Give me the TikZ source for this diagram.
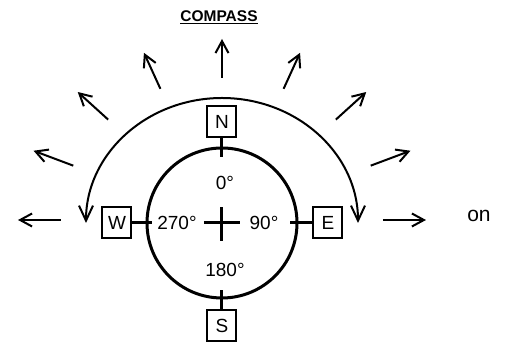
\documentclass[tikz,border=0pt]{standalone}
\usepackage{fontspec}
\setmainfont{Liberation Sans}
\usetikzlibrary{arrows.meta,calc}
\tikzset{
  dirbox/.style={draw,rectangle,line width=2pt,minimum width=29pt,minimum height=31pt,inner sep=0pt,font=\fontsize{19}{19}\selectfont},
  deglbl/.style={inner sep=0pt,font=\fontsize{19}{19}\selectfont},
  tickln/.style={line width=3pt},
  arr/.style={-{Straight Barb[length=12pt,width=13pt]},line width=2pt},
  sweep/.style={{Straight Barb[length=15pt,width=14pt]}-{Straight Barb[length=15pt,width=14pt]},line width=2pt}
}

\begin{document}
\begin{tikzpicture}[x=1pt,y=1pt]
  \useasboundingbox (-222,-121) rectangle (285,223);

  % title
  \node[anchor=base,inner sep=0pt,font=\fontsize{15.5}{15.5}\selectfont\bfseries] (title) at (-3,201) {\underline{COMPASS}};

  % dial
  \draw[line width=3pt] (0,0) circle (75);
  \draw[tickln] (-18,0) -- (18,0);
  \draw[tickln] (0,-18) -- (0,16);

  \node[dirbox] (N) at (0,101) {N};
  \node[dirbox] (S) at (0,-103) {S};
  \node[dirbox] (W) at (-105,0) {W};
  \node[dirbox] (E) at (106,0) {E};

  \coordinate (nin) at (0,66);
  \coordinate (sin) at (0,-67);
  \coordinate (win) at (-70,0);
  \coordinate (ein) at (68,0);
  \draw[tickln] (N.south) -- (nin);
  \draw[tickln] (S.north) -- (sin);
  \draw[tickln] (W.east) -- (win);
  \draw[tickln] (E.west) -- (ein);

  \node[deglbl] (d0) at (3,40) {0°};
  \node[deglbl] (d90) at (42,0) {90°};
  \node[deglbl] (d180) at (3,-47) {180°};
  \node[deglbl] (d270) at (-45,0) {270°};

  % sweep from west over north to east
  \draw[sweep] (-136,0) arc[start angle=180,end angle=0,x radius=136,y radius=125];

  % radial arrows
  \foreach \a [count=\i] in {0,22.5,...,180} {
    \coordinate (ri\i) at ($(0,3)+(\a:161 and 142)$);
    \coordinate (ro\i) at ($(0,3)+(\a:204 and 181)$);
    \draw[arr] (ri\i) -- (ro\i);
  }

  \node[anchor=base,inner sep=0pt,font=\fontsize{21}{21}\selectfont] (on) at (257,1) {on};
\end{tikzpicture}
\end{document}
